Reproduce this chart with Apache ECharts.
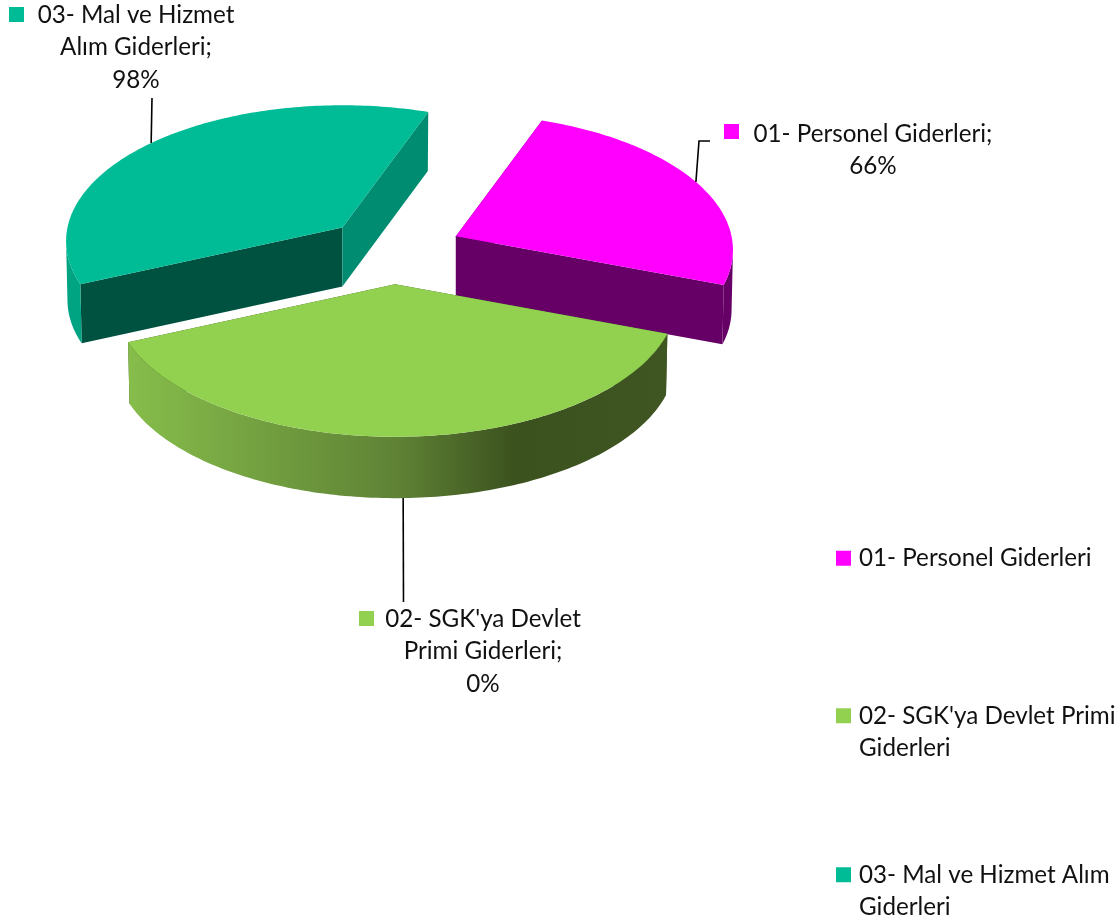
<!DOCTYPE html>
<html>
<head>
<meta charset="utf-8">
<title>Giderler</title>
<style>
  html, body { margin: 0; background: #fff; }
  #chart { width: 1117px; height: 923px; }
</style>
<script src="https://cdn.jsdelivr.net/npm/echarts@6/dist/echarts.min.js"></script>
</head>
<body>
<div id="chart"></div>
<script>
const categories = ['01- Personel Giderleri', "02- SGK'ya Devlet Primi Giderleri", '03- Mal ve Hizmet Alım Giderleri']
const shares = [25.1, 37.7, 37.2]
const labelTexts = ['01- Personel Giderleri;\n66%', "02- SGK'ya Devlet\nPrimi Giderleri;\n0%", '03- Mal ve Hizmet\nAlım Giderleri;\n98%']
const legendTexts = ['01- Personel Giderleri', "\n02- SGK'ya Devlet Primi\nGiderleri", '\n03- Mal ve Hizmet Alım\nGiderleri']

const FONT = 'Lato, sans-serif'
const FONT_SIZE = 24.2
const LINE_H = 32.5

// pie geometry (perspective ellipse, like the office 3d pie)
const pie = { cx: 393, cy: 250.5, a: 277, b: 135.5, k: 0.101, near: 0.045, taper: 0.995, depth: 60, explode: 0.25, start: 20 }

const colors = ['#ff00ff', '#92d050', '#00bc96']
const sideColors = [
  { outer: '#660066', a: '#660066', b: '#660066' },
  {
    outer: new echarts.graphic.LinearGradient(0, 0, 1, 0, [
      { offset: 0, color: '#86bd4b' },
      { offset: 0.5, color: '#5f8235' },
      { offset: 0.72, color: '#3b511e' },
      { offset: 1, color: '#3f5622' },
    ]),
    a: '#3b511e',
    b: '#3b511e',
  },
  { outer: '#00a382', a: '#005240', b: '#008c70' },
]
// label placement: text centre x, first line centre y, marker corner, leader elbow
const labelBoxes = [
  { x: 873, y: 134, mx: 724, my: 124, line: [[699, 141], [710, 141]], front: false, lead: 0 },
  { x: 483, y: 619, mx: 359, my: 611, line: [[403.5, 602]], front: true, lead: 0.3 },
  { x: 136, y: 15, mx: 9, my: 7, line: [[152, 98]], front: false, lead: -1 },
]

const total = shares.reduce((s, v) => s + v, 0)

const rim = (center, scale, deg, down) => {
  const th = (deg * Math.PI) / 180
  const u = Math.sin(th) * (down ? pie.taper : 1)
  const v = -Math.cos(th)
  const s = scale / (1 - pie.k * v)
  return [center[0] + pie.a * u * s, center[1] + pie.b * v * s + (down || 0)]
}

const renderSlice = (idx) => (params, api) => {
  const before = shares.slice(0, idx).reduce((s, v) => s + v, 0)
  const start = pie.start + (before / total) * 360
  const end = start + (api.value(0) / total) * 360
  const midDeg = (start + end) / 2
  const mid = midDeg * (Math.PI / 180)
  const center = [
    pie.cx + pie.a * pie.explode * Math.sin(mid),
    pie.cy - pie.b * pie.explode * Math.cos(mid),
  ]
  // slices pulled toward the viewer come out a little bigger
  const scale = 1 / (1 + pie.near * pie.explode * Math.cos(mid))
  const depth = pie.depth * (1 + 2 * (scale - 1))
  const arc = []
  for (let d = start; d < end; d += 1) arc.push(d)
  arc.push(end)
  const top = arc.map((d) => rim(center, scale, d))
  // only the part of the rim that faces the viewer gets a wall
  const front = arc.filter((d) => d % 360 >= 96 && d % 360 <= 264.5)
  const wall = front.map((d) => rim(center, scale, d))
    .concat(front.map((d) => rim(center, scale, d, depth)).reverse())
  const down = [center[0], center[1] + depth]
  const sides = sideColors[idx]
  const poly = (points, fill) => ({
    type: 'polygon',
    shape: { points },
    style: { fill, stroke: null },
  })
  const box = labelBoxes[idx]
  const linePts = [rim(center, scale, midDeg + box.lead, box.front ? depth : 0)].concat(box.line)
  return {
    type: 'group',
    children: [
      poly([center, top[0], rim(center, scale, start, depth), down], sides.a),
      poly([center, top[top.length - 1], rim(center, scale, end, depth), down], sides.b),
      poly(wall, sides.outer),
      poly([center].concat(top), colors[idx]),
      {
        type: 'polyline',
        shape: { points: linePts },
        style: { stroke: '#000', lineWidth: 1.6, fill: null },
      },
      {
        type: 'rect',
        shape: { x: box.mx, y: box.my, width: 15, height: 15 },
        style: { fill: colors[idx] },
      },
      {
        type: 'text',
        style: {
          text: labelTexts[idx],
          x: box.x,
          y: box.y - LINE_H / 2,
          align: 'center',
          verticalAlign: 'top',
          fill: '#111',
          font: FONT_SIZE + 'px ' + FONT,
          lineHeight: LINE_H,
        },
      },
    ],
  }
}

const legendTop = [542, 667, 826]
const chart = echarts.init(document.getElementById('chart'))
chart.setOption({
  animation: false,
  backgroundColor: '#fff',
  legend: categories.map((name, i) => ({
    data: [name],
    left: 836,
    top: legendTop[i],
    padding: 0,
    icon: 'rect',
    itemWidth: 15,
    itemHeight: 15,
    itemGap: 0,
    selectedMode: false,
    formatter: () => legendTexts[i],
    textStyle: { fontFamily: FONT, fontSize: FONT_SIZE, color: '#111', lineHeight: LINE_H, padding: [0, 0, 0, 3] },
  })),
  series: categories.map((name, i) => ({
    type: 'custom',
    name,
    coordinateSystem: 'none',
    z: i === 1 ? 3 : 2,
    itemStyle: { color: colors[i] },
    renderItem: renderSlice(i),
    data: [[shares[i]]],
  })),
})
</script>
</body>
</html>
